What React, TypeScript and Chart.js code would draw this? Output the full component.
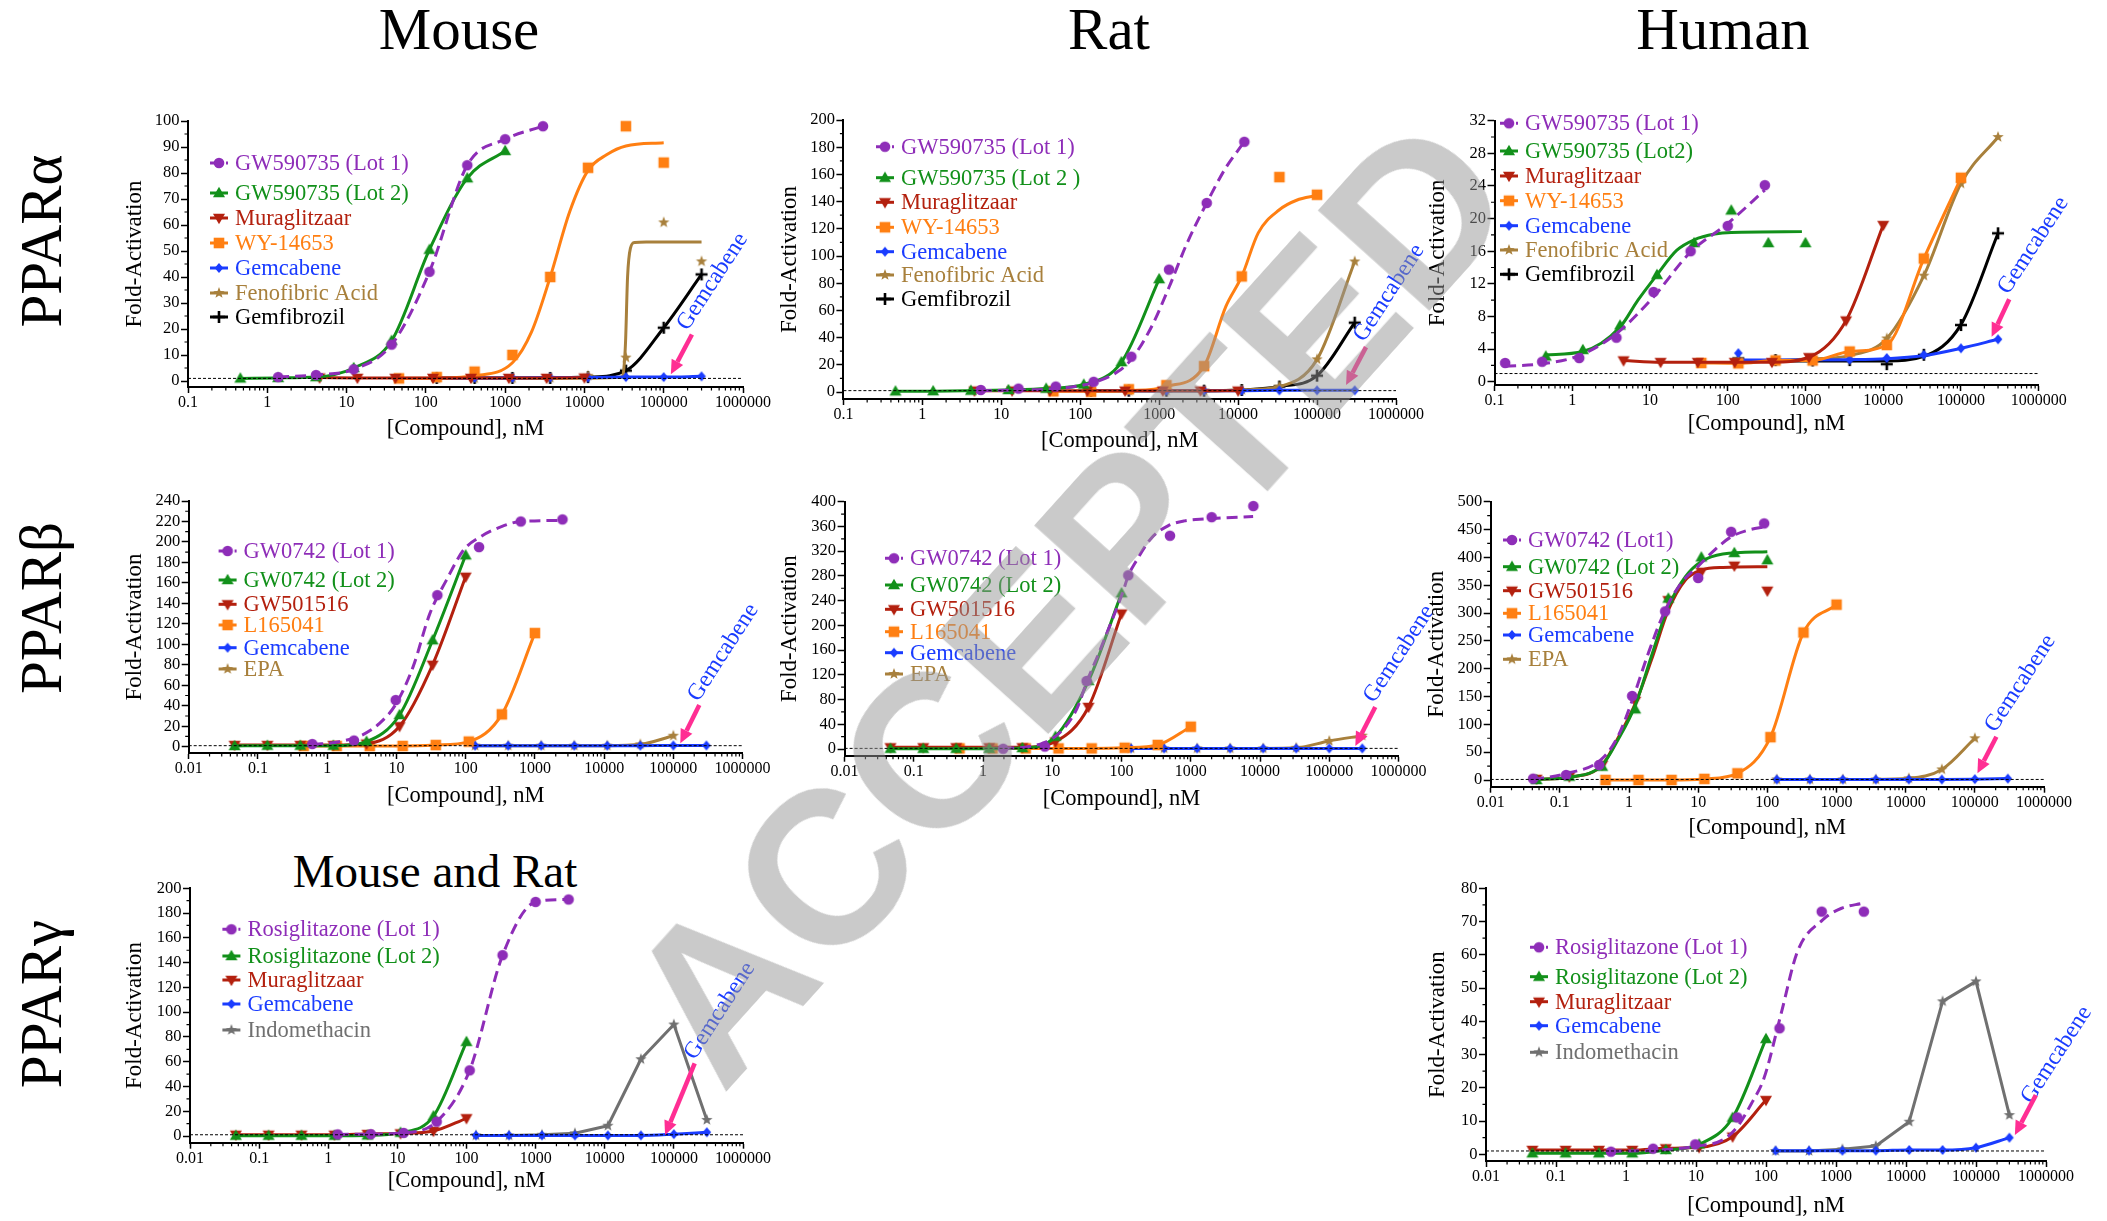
import React, { useEffect, useRef } from 'react';
import { Chart, registerables } from 'chart.js';

Chart.register(...registerables);

const SERIF = '"Liberation Serif", "Times New Roman", Times, serif';

// ---------------- tick labels ----------------
const X_TICKS_A = [0.1, 1, 10, 100, 1000, 10000, 100000, 1000000];
const X_TICKS_B = [0.01, 0.1, 1, 10, 100, 1000, 10000, 100000, 1000000];

// ---------------- concentrations (nM) ----------------
const C_GEM = [137, 412, 1235, 3704, 11111, 33333, 100000, 300000];
const C_GEM7 = [137, 412, 1235, 3704, 11111, 33333, 100000];
const C_LOW = [0.046, 0.137, 0.41, 1.23, 3.7, 11.1, 33.3, 100];
const C_457 = [0.457, 1.37, 4.12, 12.3, 37, 111, 333, 1000];
const C_137 = [1.37, 4.12, 12.3, 37, 111, 333, 1000, 3000];
const C_MURA = [4.57, 13.7, 41.2, 123, 370, 1111, 3333, 10000];
const C_WY = [45.7, 137, 412, 1235, 3704, 11111, 33333, 100000];

// ---------------- Mouse PPARα ----------------
const MA_GW1_Y = [1.5, 2.3, 4.5, 14, 42, 83, 93, 98];
const MA_GW2_Y = [1, 1.2, 1.5, 5, 15.5, 50.5, 78, 88.5];
const MA_MURA_Y = [1.3, 1.2, 1.2, 1.2, 1.2, 1.2, 1.2, 1.3];
const MA_WY_Y = [1, 1.5, 3.6, 10, 40, 82, 98, 84];
const MA_WY_FIT_X = [45.7, 137, 412, 1235, 2160, 3704, 6500, 11111, 19000, 33333, 100000];
const MA_WY_FIT_Y = [1, 1.1, 2, 7, 19, 40, 65, 81, 87, 90.4, 91.6];
const MA_GEM_Y = [1.2, 1.2, 1.2, 1.3, 1.3, 1.5, 1.5, 1.8];
const MA_FENO_Y = [1, 1, 1, 1.2, 2, 9, 61, 46];
const MA_FENO_FIT_X = [137, 11111, 30000, 31500, 33000, 35000, 38000, 43000, 60000, 300000];
const MA_FENO_FIT_Y = [1, 1.1, 1.5, 5, 15, 40, 51, 53.3, 53.5, 53.5];
const MA_GEMF_Y = [1.2, 1.2, 1.2, 1.2, 1.5, 4, 20.5, 41];

// ---------------- Rat PPARα ----------------
const RA_GW1_X = [5.5, 16.5, 49, 148, 444, 1333, 4000, 12000];
const RA_GW1_Y = [1.5, 2.5, 4, 7.5, 26, 90, 139, 184];
const RA_GW1_FIT_X = [5.5, 49, 148, 300, 444, 800, 1333, 2200, 4000, 7000, 12000];
const RA_GW1_FIT_Y = [1, 2.5, 7, 15, 24, 48, 77, 108, 139, 165, 184];
const RA_GW2_Y = [0.5, 0.6, 1, 1.5, 2.5, 5.5, 22, 83];
const RA_MURA_Y = [1, 1, 1, 1, 1, 1, 1, 1];
const RA_WY_Y = [0.5, 0.2, 2, 5, 19, 85, 158, 145];
const RA_WY_FIT_X = [45.7, 137, 412, 1235, 3704, 7000, 11111, 18000, 33333, 55000, 100000];
const RA_WY_FIT_Y = [0.5, 0.5, 1, 4, 19, 63, 85, 117, 134, 141, 144.5];
const RA_GEM_Y = [1, 1, 1, 1, 1, 1.2, 1.2, 1.2];
const RA_FENO_Y = [1, 1, 1, 1, 1.5, 4, 24, 96];
const RA_GEMF_Y = [1, 1, 1, 1, 1.5, 4, 12, 51];

// ---------------- Human PPARα ----------------
const HA_GW1_X = [0.137, 0.41, 1.23, 3.7, 11.1, 33.3, 100, 300];
const HA_GW1_Y = [2.3, 2.45, 2.9, 5.4, 11, 16, 19.1, 24.1];
const HA_GW1_FIT_Y = [1.9, 2.2, 3.2, 5.9, 10.4, 15.9, 19.4, 23.5];
const HA_GW2_Y = [3.1, 3.9, 6.9, 13.1, 17, 21, 17, 17];
const HA_GW2_FIT_X = [0.457, 1.37, 4.12, 7, 12.3, 22, 37, 68, 111, 900];
const HA_GW2_FIT_Y = [3.3, 3.7, 6.7, 10, 13.1, 16.1, 17.4, 18.1, 18.3, 18.4];
const HA_MURA_Y = [2.6, 2.4, 2.4, 2.4, 2.4, 3, 7.5, 19.2];
const HA_WY_Y = [2.3, 2.25, 2.6, 2.6, 3.7, 4.5, 15.1, 25];
const HA_GEM_Y = [3.5, 2.6, 2.6, 2.7, 2.9, 3.3, 4.1, 5.2];
const HA_GEM_FIT_X = [137, 3704, 11111, 33333, 100000, 300000];
const HA_GEM_FIT_Y = [2.65, 2.7, 2.8, 3.2, 4.1, 5.2];
const HA_FENO_Y = [2.6, 2.6, 2.8, 3.2, 5.3, 13, 24.3, 30];
const HA_GEMF_Y = [2.85, 2.65, 2.6, 2.65, 2.15, 3.3, 6.95, 18.2];
const HA_GEMF_FIT_X = [137, 11111, 33333, 100000, 300000];
const HA_GEMF_FIT_Y = [2.55, 2.55, 3.1, 7, 18.2];

// ---------------- Mouse PPARβ ----------------
const MB_GW1_X = [0.61, 2.44, 9.77, 39, 156, 625, 2500];
const MB_GW1_Y = [2.6, 6, 45.6, 148, 195, 220, 222];
const MB_GW1_FIT_X = [0.61, 1.5, 3.2, 5.7, 9.9, 17.4, 30.4, 53, 93, 163, 329, 615, 2500];
const MB_GW1_FIT_Y = [2, 4.9, 11.4, 22.8, 42, 78, 130, 163, 192, 205, 215, 220, 221];
const MB_GW2_Y = [0.7, 1, 1, 1, 5, 31, 104, 187];
const MB_GW5_Y = [1.6, 1.6, 1.6, 1.6, 3, 20, 80, 166];
const MB_L16_Y = [0.7, 0.7, 0.7, 0.7, 1.6, 5, 31.6, 111];
const MB_GEM_Y = [1, 1, 1, 1, 1, 1, 1.2, 1.2];
const MB_EPA_Y = [1, 1, 1, 1, 1, 2.3, 10.7];

// ---------------- Rat PPARβ ----------------
const RB_GW1_X = [1.95, 7.8, 31.25, 125, 500, 2000, 8000];
const RB_GW1_Y = [0.5, 4, 110, 281, 345, 375, 393];
const RB_GW1_FIT_X = [1.95, 4, 7.5, 13, 22.6, 31.8, 45, 68, 103, 126, 155, 269, 468, 810, 1620, 7950];
const RB_GW1_FIT_Y = [1, 3, 10, 27, 65, 110, 150, 200, 252, 281, 300, 341, 361, 369, 372, 376];
const RB_GW2_Y = [0.5, 0.5, 0.5, 0.5, 1.6, 20, 110, 252];
const RB_GW5_Y = [2.7, 2.7, 2.7, 2.7, 2.7, 12, 68, 219];
const RB_L16_Y = [1, 1, 1, 1, 1, 2, 6.5, 36];
const RB_GEM_Y = [1, 1, 1, 1, 1, 1, 1, 1];
const RB_EPA_Y = [1, 1, 1, 1, 1, 2, 13, 21.6];

// ---------------- Human PPARβ ----------------
const HB_GW1_X = [0.041, 0.123, 0.37, 1.11, 3.33, 10, 30, 90];
const HB_GW1_Y = [2.4, 9, 27, 151, 303, 363, 446, 461];
const HB_GW1_FIT_X = [0.041, 0.128, 0.39, 0.69, 1.12, 1.83, 3.2, 5.6, 9.8, 17.2, 30, 53, 92];
const HB_GW1_FIT_Y = [1, 12, 36, 78, 144, 222, 300, 353, 383, 413, 437, 449, 455];
const HB_GW2_Y = [0, 6, 24, 127, 326, 400, 408, 395];
const HB_GW_FIT_X = [0.046, 0.137, 0.41, 0.69, 1.24, 2.1, 3.7, 6.5, 11, 22.7, 100];
const HB_GW2_FIT_Y = [1, 5, 27, 72, 135, 222, 311, 365, 392, 406, 410];
const HB_GW5_Y = [2, 6, 27, 142, 323, 374, 385, 340];
const HB_GW5_FIT_Y = [1, 5, 27, 75, 138, 215, 305, 359, 377, 382, 383];
const HB_L16_Y = [0, 0, 0, 2, 12, 77, 265, 315];
const HB_GEM_Y = [1, 1, 1, 1, 1, 1, 1.5, 2.5];
const HB_EPA_Y = [1, 1, 1, 1, 3, 19, 75];

// ---------------- Mouse and Rat PPARγ ----------------
const MG_R1_Y = [1.3, 1.5, 2.5, 11.6, 53, 146, 189, 191];
const MG_R2_Y = [0.3, 0.3, 0.3, 0.3, 0.5, 2.7, 16, 76];
const MG_MURA_Y = [1, 1, 1, 1, 1.6, 2.1, 4, 14.3];
const MG_GEM_Y = [0.5, 0.5, 0.5, 0.5, 0.5, 0.5, 1.5, 3];
const MG_INDO_Y = [0.5, 0.5, 1, 2.2, 8.3, 62, 90, 13];

// ---------------- Human PPARγ ----------------
const HG_R1_X = [0.61, 2.44, 9.77, 39, 156, 625, 2500];
const HG_R1_Y = [0.8, 1.7, 3, 11.1, 37.9, 73, 73];
const HG_R1_FIT_X = [0.61, 2.44, 9.8, 25, 39, 62, 94, 163, 282, 645, 1200, 2400];
const HG_R1_FIT_Y = [0.9, 1.2, 2.4, 4.5, 8.3, 15.3, 23, 42, 61, 70.5, 74, 75.5];
const HG_R2_Y = [0.3, 0.3, 0.3, 0.3, 1.3, 3, 11, 34.7];
const HG_MURA_Y = [1.3, 1.3, 1.3, 1.3, 1.8, 2.1, 5.3, 16.3];
const HG_GEM_Y = [1.1, 1.1, 1.1, 1.1, 1.3, 1.3, 2, 5];
const HG_INDO_Y = [1, 1, 1.5, 2.5, 9.8, 46, 52, 11.8];

// ---------------- styles ----------------
const PURPLE = '#8e2db8';
const GREEN = '#12901a';
const RED = '#b3200e';
const ORANGE = '#ff7f12';
const BLUE = '#1a3cff';
const BROWN = '#a8803c';
const BLACK = '#000000';
const GRAY = '#707070';
const PINK = '#ff2e93';

type S = {
  label: string; color: string; marker: string; dashed?: boolean; straight?: boolean;
  x: number[]; y: number[]; fx?: number[]; fy?: number[];
};

const gw1 = (label: string, x: number[], y: number[], fx?: number[], fy?: number[]): S =>
  ({ label, color: PURPLE, marker: 'circle', dashed: true, x, y, fx, fy });
const gw2 = (label: string, x: number[], y: number[], fx?: number[], fy?: number[]): S =>
  ({ label, color: GREEN, marker: 'tri', x, y, fx, fy });
const redS = (label: string, x: number[], y: number[], fx?: number[], fy?: number[]): S =>
  ({ label, color: RED, marker: 'tridown', x, y, fx, fy });
const orS = (label: string, x: number[], y: number[], fx?: number[], fy?: number[]): S =>
  ({ label, color: ORANGE, marker: 'square', x, y, fx, fy });
const gemS = (x: number[], y: number[], fx?: number[], fy?: number[]): S =>
  ({ label: 'Gemcabene', color: BLUE, marker: 'diamond', x, y, fx, fy });
const brS = (label: string, x: number[], y: number[], fx?: number[], fy?: number[]): S =>
  ({ label, color: BROWN, marker: 'star', x, y, fx, fy });
const bkS = (x: number[], y: number[], fx?: number[], fy?: number[]): S =>
  ({ label: 'Gemfibrozil', color: BLACK, marker: 'plus', x, y, fx, fy });
const indoS = (x: number[], y: number[]): S =>
  ({ label: 'Indomethacin', color: GRAY, marker: 'star', straight: true, x, y });

type Panel = {
  id: string; xTicks: number[]; yMax: number; yMajor: number; yMinor: number;
  geo: { xL: number; xR: number; yTop: number; yZero: number; yAxis: number; yTitleX: number; xTitleY: number };
  legend: { x: number; rows: number[] };
  ann: { t: [number, number]; a0: [number, number]; a1: [number, number] };
  series: S[];
};

const PANELS: Panel[] = [
  {
    id: 'MA', xTicks: X_TICKS_A, yMax: 100, yMajor: 10, yMinor: 5,
    geo: { xL: 188, xR: 743, yTop: 121, yZero: 381, yAxis: 387, yTitleX: 134, xTitleY: 430 },
    legend: { x: 210, rows: [163, 193, 218, 243, 268, 293, 317] },
    ann: { t: [414000, 38.2], a0: [227000, 17.9], a1: [123000, 2.6] },
    series: [
      gw1('GW590735 (Lot 1)', C_137, MA_GW1_Y),
      gw2('GW590735 (Lot 2)', C_457, MA_GW2_Y),
      redS('Muraglitzaar', C_MURA, MA_MURA_Y),
      orS('WY-14653', C_WY, MA_WY_Y, MA_WY_FIT_X, MA_WY_FIT_Y),
      gemS(C_GEM, MA_GEM_Y),
      brS('Fenofibric Acid', C_GEM, MA_FENO_Y, MA_FENO_FIT_X, MA_FENO_FIT_Y),
      bkS(C_GEM, MA_GEMF_Y),
    ],
  },
  {
    id: 'RA', xTicks: X_TICKS_A, yMax: 200, yMajor: 20, yMinor: 10,
    geo: { xL: 843.4, xR: 1396, yTop: 120, yZero: 392, yAxis: 399, yTitleX: 789.5, xTitleY: 441.7 },
    legend: { x: 876, rows: [146.7, 177.7, 202.3, 227.3, 251.7, 275, 299] },
    ann: { t: [815000, 72.8], a0: [417000, 33], a1: [233000, 5.1] },
    series: [
      gw1('GW590735 (Lot 1)', RA_GW1_X, RA_GW1_Y, RA_GW1_FIT_X, RA_GW1_FIT_Y),
      gw2('GW590735 (Lot 2 )', C_457, RA_GW2_Y),
      redS('Muraglitzaar', C_MURA, RA_MURA_Y),
      orS('WY-14653', C_WY, RA_WY_Y, RA_WY_FIT_X, RA_WY_FIT_Y),
      gemS(C_GEM, RA_GEM_Y),
      brS('Fenofibric Acid', C_GEM, RA_FENO_Y),
      bkS(C_GEM, RA_GEMF_Y),
    ],
  },
  {
    id: 'HA', xTicks: X_TICKS_A, yMax: 32, yMajor: 4, yMinor: 2,
    geo: { xL: 1494.5, xR: 2038.7, yTop: 120.7, yZero: 381.7, yAxis: 385, yTitleX: 1437, xTitleY: 425 },
    legend: { x: 1500, rows: [123.3, 151, 176, 200.7, 225.7, 250, 274.3] },
    ann: { t: [851000, 16.7], a0: [418000, 10.1], a1: [248000, 5.5] },
    series: [
      gw1('GW590735 (Lot 1)', HA_GW1_X, HA_GW1_Y, HA_GW1_X, HA_GW1_FIT_Y),
      gw2('GW590735 (Lot2)', C_457, HA_GW2_Y, HA_GW2_FIT_X, HA_GW2_FIT_Y),
      redS('Muraglitzaar', C_MURA, HA_MURA_Y),
      orS('WY-14653', C_WY, HA_WY_Y),
      gemS(C_GEM, HA_GEM_Y, HA_GEM_FIT_X, HA_GEM_FIT_Y),
      brS('Fenofibric Acid', C_GEM, HA_FENO_Y),
      bkS(C_GEM, HA_GEMF_Y, HA_GEMF_FIT_X, HA_GEMF_FIT_Y),
    ],
  },
  {
    id: 'MB', xTicks: X_TICKS_B, yMax: 240, yMajor: 20, yMinor: 10,
    geo: { xL: 188.7, xR: 742.6, yTop: 501, yZero: 746.7, yAxis: 753, yTitleX: 134, xTitleY: 796.7 },
    legend: { x: 218.6, rows: [551, 580, 604.3, 625, 647.7, 669] },
    ann: { t: [525000, 92], a0: [237000, 40.7], a1: [126000, 3.3] },
    series: [
      gw1('GW0742 (Lot 1)', MB_GW1_X, MB_GW1_Y, MB_GW1_FIT_X, MB_GW1_FIT_Y),
      gw2('GW0742 (Lot 2)', C_LOW, MB_GW2_Y),
      redS('GW501516', C_LOW, MB_GW5_Y),
      orS('L165041', C_457, MB_L16_Y),
      gemS(C_GEM, MB_GEM_Y),
      brS('EPA', C_GEM7, MB_EPA_Y),
    ],
  },
  {
    id: 'RB', xTicks: X_TICKS_B, yMax: 400, yMajor: 40, yMinor: 20,
    geo: { xL: 844.6, xR: 1398.5, yTop: 501.7, yZero: 749, yAxis: 755.7, yTitleX: 789.5, xTitleY: 800 },
    legend: { x: 885, rows: [558.3, 585, 609.3, 631.7, 652.7, 674] },
    ann: { t: [1020000, 153.7], a0: [462000, 68], a1: [238000, 4.9] },
    series: [
      gw1('GW0742 (Lot 1)', RB_GW1_X, RB_GW1_Y, RB_GW1_FIT_X, RB_GW1_FIT_Y),
      gw2('GW0742 (Lot 2)', C_LOW, RB_GW2_Y),
      redS('GW501516', C_LOW, RB_GW5_Y),
      orS('L165041', C_457, RB_L16_Y),
      gemS(C_GEM, RB_GEM_Y),
      brS('EPA', C_GEM, RB_EPA_Y),
    ],
  },
  {
    id: 'HB', xTicks: X_TICKS_B, yMax: 500, yMajor: 50, yMinor: 25,
    geo: { xL: 1490.7, xR: 2044, yTop: 501.7, yZero: 780, yAxis: 786.7, yTitleX: 1436, xTitleY: 829 },
    legend: { x: 1503, rows: [540, 566.7, 590.7, 613.3, 635, 659.3] },
    ann: { t: [455000, 173.6], a0: [205000, 77.8], a1: [109000, 12] },
    series: [
      gw1('GW0742 (Lot1)', HB_GW1_X, HB_GW1_Y, HB_GW1_FIT_X, HB_GW1_FIT_Y),
      gw2('GW0742 (Lot 2)', C_LOW, HB_GW2_Y, HB_GW_FIT_X, HB_GW2_FIT_Y),
      redS('GW501516', C_LOW, HB_GW5_Y, HB_GW_FIT_X, HB_GW5_FIT_Y),
      orS('L165041', C_457, HB_L16_Y),
      gemS(C_GEM, HB_GEM_Y),
      brS('EPA', C_GEM7, HB_EPA_Y),
    ],
  },
  {
    id: 'MG', xTicks: X_TICKS_B, yMax: 200, yMajor: 20, yMinor: 10,
    geo: { xL: 190, xR: 743, yTop: 888.3, yZero: 1136, yAxis: 1142.7, yTitleX: 134, xTitleY: 1181.7 },
    legend: { x: 222.4, rows: [929.3, 956, 980, 1004, 1030] },
    ann: { t: [461000, 101], a0: [200000, 58.7], a1: [74600, 0.8] },
    series: [
      gw1('Rosiglitazone (Lot 1)', C_137, MG_R1_Y),
      gw2('Rosiglitazone (Lot 2)', C_LOW, MG_R2_Y),
      redS('Muraglitzaar', C_LOW, MG_MURA_Y),
      gemS(C_GEM, MG_GEM_Y),
      indoS(C_GEM, MG_INDO_Y),
    ],
  },
  {
    id: 'HG', xTicks: X_TICKS_B, yMax: 80, yMajor: 10, yMinor: 5,
    geo: { xL: 1486, xR: 2046, yTop: 888.3, yZero: 1154.3, yAxis: 1161, yTitleX: 1437, xTitleY: 1206.7 },
    legend: { x: 1530, rows: [947.3, 976.7, 1001.7, 1025.7, 1052.3] },
    ann: { t: [1410000, 29.9], a0: [716000, 17.8], a1: [359000, 5.8] },
    series: [
      gw1('Rosiglitazone (Lot 1)', HG_R1_X, HG_R1_Y, HG_R1_FIT_X, HG_R1_FIT_Y),
      gw2('Rosiglitazone (Lot 2)', C_LOW, HG_R2_Y),
      redS('Muraglitzaar', C_LOW, HG_MURA_Y),
      gemS(C_GEM, HG_GEM_Y),
      indoS(C_GEM, HG_INDO_Y),
    ],
  },
];

// ---------------- markers ----------------
const markerCache: Record<string, HTMLCanvasElement> = {};
function markerImg(kind: string, color: string): HTMLCanvasElement {
  const key = kind + color;
  if (markerCache[key]) return markerCache[key];
  const c = document.createElement('canvas');
  const SZ = 16;
  c.width = SZ; c.height = SZ;
  const g = c.getContext('2d')!;
  const m = SZ / 2;
  g.fillStyle = color; g.strokeStyle = color;
  g.beginPath();
  if (kind === 'circle') {
    g.arc(m, m, 5.3, 0, Math.PI * 2); g.fill();
  } else if (kind === 'tri') {
    g.moveTo(m, m - 6.2); g.lineTo(m + 6, m + 4.3); g.lineTo(m - 6, m + 4.3); g.closePath(); g.fill();
  } else if (kind === 'tridown') {
    g.moveTo(m, m + 6.2); g.lineTo(m + 6, m - 4.3); g.lineTo(m - 6, m - 4.3); g.closePath(); g.fill();
  } else if (kind === 'square') {
    g.rect(m - 5.3, m - 5.3, 10.6, 10.6); g.fill();
  } else if (kind === 'diamond') {
    g.moveTo(m, m - 5); g.lineTo(m + 4.3, m); g.lineTo(m, m + 5); g.lineTo(m - 4.3, m); g.closePath(); g.fill();
  } else if (kind === 'plus') {
    g.lineWidth = 2.6;
    g.moveTo(m - 6, m); g.lineTo(m + 6, m); g.moveTo(m, m - 6); g.lineTo(m, m + 6); g.stroke();
  } else if (kind === 'star') {
    for (let i = 0; i < 10; i++) {
      const r = i % 2 === 0 ? 6 : 2.5;
      const a = -Math.PI / 2 + (i * Math.PI) / 5;
      const px = m + r * Math.cos(a), py = m + r * Math.sin(a);
      if (i === 0) g.moveTo(px, py); else g.lineTo(px, py);
    }
    g.closePath(); g.fill();
  }
  markerCache[key] = c;
  return c;
}

function boxOf(p: Panel) {
  const g = p.geo;
  const left = Math.round(g.yTitleX - 13.2);
  const top = Math.round(g.yTop - 40);
  const right = Math.min(2107, Math.round(g.xR + 70));
  const bottom = Math.min(1221, Math.round(g.xTitleY + 13.2));
  return { left, top, right, bottom, W: right - left, H: bottom - top };
}

function decoPlugin(p: Panel, box: any) {
  return {
    id: 'deco' + p.id,
    afterDraw(chart: any) {
      const ctx = chart.ctx as CanvasRenderingContext2D;
      const xs = chart.scales.x, ys = chart.scales.y;
      const xMin = p.xTicks[0], xMax = p.xTicks[p.xTicks.length - 1];
      ctx.save();
      // minor ticks
      ctx.strokeStyle = '#000';
      ctx.lineWidth = 1.2;
      ctx.beginPath();
      const e0 = Math.round(Math.log10(xMin)), e1 = Math.round(Math.log10(xMax));
      for (let e = e0; e < e1; e++) {
        for (let k = 2; k <= 9; k++) {
          const px = xs.getPixelForValue(k * Math.pow(10, e));
          ctx.moveTo(px, xs.top); ctx.lineTo(px, xs.top + 3.5);
        }
      }
      for (let v = p.yMinor; v < p.yMax; v += p.yMinor) {
        const q = v / p.yMajor;
        if (Math.abs(q - Math.round(q)) < 1e-6) continue;
        const py = ys.getPixelForValue(v);
        ctx.moveTo(ys.right, py); ctx.lineTo(ys.right - 3.5, py);
      }
      ctx.stroke();

      // legend
      const lx = p.legend.x - box.left;
      ctx.font = `22.5px ${SERIF}`;
      ctx.textBaseline = 'middle';
      ctx.textAlign = 'left';
      p.series.forEach((s, i) => {
        const cy = p.legend.rows[i] - box.top;
        ctx.strokeStyle = s.color;
        ctx.lineWidth = 3;
        ctx.setLineDash(s.dashed ? [5, 3] : []);
        ctx.beginPath(); ctx.moveTo(lx, cy); ctx.lineTo(lx + 18, cy); ctx.stroke();
        ctx.setLineDash([]);
        const im = markerImg(s.marker, s.color);
        ctx.drawImage(im, lx + 9 - im.width / 2, cy - im.height / 2);
        ctx.fillStyle = s.color;
        ctx.fillText(s.label, lx + 25, cy + 1);
      });

      // Gemcabene annotation
      const tx = xs.getPixelForValue(p.ann.t[0]), ty = ys.getPixelForValue(p.ann.t[1]);
      ctx.save();
      ctx.translate(tx, ty);
      ctx.rotate((-57 * Math.PI) / 180);
      ctx.fillStyle = BLUE;
      ctx.font = `23.5px ${SERIF}`;
      ctx.textAlign = 'center';
      ctx.textBaseline = 'middle';
      ctx.fillText('Gemcabene', 0, 0);
      ctx.restore();

      const ax0 = xs.getPixelForValue(p.ann.a0[0]), ay0 = ys.getPixelForValue(p.ann.a0[1]);
      const ax1 = xs.getPixelForValue(p.ann.a1[0]), ay1 = ys.getPixelForValue(p.ann.a1[1]);
      const ang = Math.atan2(ay1 - ay0, ax1 - ax0);
      const headL = 14, headW = 6.5;
      const bx = ax1 - headL * Math.cos(ang), by = ay1 - headL * Math.sin(ang);
      ctx.strokeStyle = PINK; ctx.fillStyle = PINK;
      ctx.lineWidth = 4.5; ctx.lineCap = 'butt';
      ctx.beginPath(); ctx.moveTo(ax0, ay0); ctx.lineTo(bx, by); ctx.stroke();
      ctx.beginPath();
      ctx.moveTo(ax1, ay1);
      ctx.lineTo(bx + headW * Math.sin(ang), by - headW * Math.cos(ang));
      ctx.lineTo(bx - headW * Math.sin(ang), by + headW * Math.cos(ang));
      ctx.closePath(); ctx.fill();
      ctx.restore();
    },
  };
}

function makeConfig(p: Panel, box: any): any {
  const g = p.geo;
  const yMin = -((g.yAxis - g.yZero) / (g.yZero - g.yTop)) * p.yMax;
  const xMin = p.xTicks[0], xMax = p.xTicks[p.xTicks.length - 1];
  const datasets: any[] = [
    {
      data: [{ x: xMin, y: 1 }, { x: xMax, y: 1 }],
      showLine: true, borderColor: '#000', borderWidth: 1, borderDash: [3, 2],
      pointRadius: 0, clip: false,
    },
  ];
  p.series.forEach((s) => {
    const m = markerImg(s.marker, s.color);
    const pts = s.x.map((x, i) => ({ x, y: s.y[i] }));
    const lineBase = {
      showLine: true, borderColor: s.color, borderWidth: 3,
      borderDash: s.dashed ? [11, 6] : [],
      cubicInterpolationMode: s.straight ? 'default' : 'monotone',
      tension: 0, clip: false, borderJoinStyle: 'round',
    };
    if (s.fx && s.fy) {
      const fy = s.fy;
      datasets.push({ ...lineBase, data: s.fx.map((x, i) => ({ x, y: fy[i] })), pointRadius: 0 });
      datasets.push({ data: pts, showLine: false, pointStyle: m, pointRadius: 6, clip: false });
    } else {
      datasets.push({ ...lineBase, data: pts, pointStyle: m, pointRadius: 6 });
    }
  });

  const yTicks: number[] = [];
  for (let v = 0; v <= p.yMax + 1e-9; v += p.yMajor) yTicks.push(v);

  return {
    type: 'scatter',
    data: { datasets },
    options: {
      responsive: false,
      animation: false,
      devicePixelRatio: 1,
      events: [],
      layout: { padding: { left: 0, top: g.yTop - box.top, right: box.right - g.xR, bottom: 0 } },
      plugins: { legend: { display: false }, tooltip: { enabled: false }, title: { display: false } },
      scales: {
        x: {
          type: 'logarithmic', position: 'bottom', min: xMin, max: xMax,
          afterBuildTicks: (sc: any) => { sc.ticks = p.xTicks.map((v) => ({ value: v, major: true })); },
          afterFit: (sc: any) => { sc.height = box.bottom - g.yAxis; },
          border: { display: true, color: '#000', width: 2 },
          grid: { display: true, drawOnChartArea: false, drawTicks: true, tickLength: 6, tickWidth: 1.5, tickColor: '#000' },
          ticks: {
            autoSkip: false, maxRotation: 0, minRotation: 0, padding: 0, color: '#000',
            font: { family: SERIF, size: 16 },
            callback: (v: any) => String(v),
          },
          title: { display: true, text: '[Compound], nM', color: '#000', font: { family: SERIF, size: 22.5 }, padding: 0 },
        },
        y: {
          type: 'linear', position: 'left', min: yMin, max: p.yMax,
          afterBuildTicks: (sc: any) => { sc.ticks = yTicks.map((v) => ({ value: v })); },
          afterFit: (sc: any) => { sc.width = g.xL - box.left; },
          border: { display: true, color: '#000', width: 2 },
          grid: { display: true, drawOnChartArea: false, drawTicks: true, tickLength: 7, tickWidth: 1.5, tickColor: '#000' },
          ticks: {
            autoSkip: false, padding: 1.5, color: '#000',
            font: { family: SERIF, size: 16.5 },
            callback: (v: any) => String(v),
          },
          title: { display: true, text: 'Fold-Activation', color: '#000', font: { family: SERIF, size: 23 }, padding: 0 },
        },
      },
    },
    plugins: [decoPlugin(p, box)],
  };
}

function PanelChart({ p }: { p: Panel }) {
  const ref = useRef<HTMLCanvasElement>(null);
  const box = boxOf(p);
  useEffect(() => {
    if (!ref.current) return;
    const chart = new Chart(ref.current, makeConfig(p, box));
    return () => chart.destroy();
  }, []);
  return (
    <canvas
      ref={ref}
      width={box.W}
      height={box.H}
      style={{ position: 'absolute', left: box.left, top: box.top, width: box.W, height: box.H }}
    />
  );
}

function Title({ text, cx, baseline, size }: { text: string; cx: number; baseline: number; size: number }) {
  return (
    <div
      style={{
        position: 'absolute', left: cx, top: baseline - 0.8375 * size, transform: 'translateX(-50%)',
        fontFamily: SERIF, fontSize: size, lineHeight: `${size}px`, whiteSpace: 'nowrap', color: '#000',
      }}
    >
      {text}
    </div>
  );
}

function RowLabel({ text, cx, cy, size }: { text: string; cx: number; cy: number; size: number }) {
  return (
    <div
      style={{
        position: 'absolute', left: cx, top: cy, transform: 'translate(-50%, -50%) rotate(-90deg)',
        fontFamily: SERIF, fontSize: size, lineHeight: `${size}px`, whiteSpace: 'nowrap', color: '#000',
      }}
    >
      {text}
    </div>
  );
}

export default function App() {
  return (
    <div
      style={{
        position: 'absolute', left: 0, top: 0, width: 2107, height: 1221,
        background: '#fff', overflow: 'hidden',
      }}
    >
      <Title text="Mouse" cx={459} baseline={49.3} size={59} />
      <Title text="Rat" cx={1109} baseline={49.3} size={59} />
      <Title text="Human" cx={1723} baseline={49.3} size={59} />
      <Title text="Mouse and Rat" cx={435} baseline={887} size={47} />
      <RowLabel text="PPARα" cx={40.8} cy={241} size={59} />
      <RowLabel text="PPARβ" cx={40.8} cy={608} size={59} />
      <RowLabel text="PPARγ" cx={40.8} cy={1004} size={59} />
      {PANELS.map((p) => (
        <PanelChart key={p.id} p={p} />
      ))}
      <div
        style={{
          position: 'absolute', left: 1068, top: 600,
          transform: 'translate(-50%, -50%) rotate(-48deg)',
          fontFamily: '"Liberation Sans", Arial, sans-serif', fontWeight: 'bold', fontSize: 218,
          lineHeight: '218px', color: 'rgba(150,150,150,0.5)', whiteSpace: 'nowrap', pointerEvents: 'none',
        }}
      >
        ACCEPTED
      </div>
    </div>
  );
}
